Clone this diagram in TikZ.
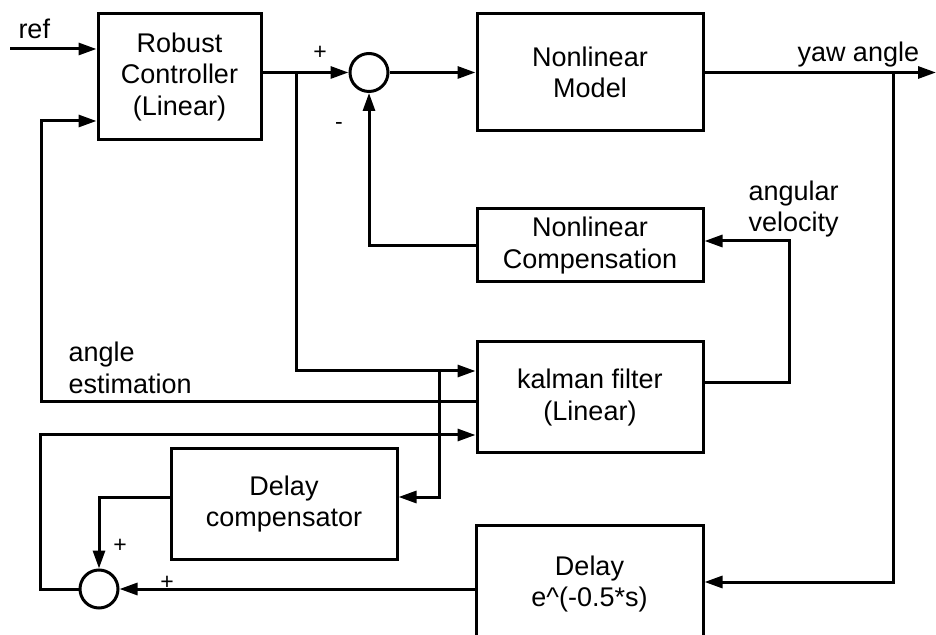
\documentclass[tikz,border=0pt]{standalone}
\usepackage{fontspec}
\setmainfont{Liberation Sans}
\usetikzlibrary{arrows.meta}

\begin{document}
\begin{tikzpicture}
  [x=0.5pt, y=-0.5pt, line width=1.5pt, >={Triangle[length=9pt,width=6pt]},
   font=\fontsize{13.5}{15.8}\selectfont,
   blk/.style={draw, align=center, inner sep=0pt},
   sumc/.style={draw, circle, minimum size=19pt, inner sep=0pt},
   sgn/.style={font=\fontsize{11.5}{13}\selectfont, inner sep=0pt}]
  \useasboundingbox (0,0) rectangle (936,635);

  \node[blk, minimum width=81.5pt, minimum height=63pt] (ctrl) at (179.5,77) {Robust\\Controller\\(Linear)};
  \node[sumc] (sum1) at (369,72.5) {};
  \node[blk, minimum width=113pt, minimum height=58.5pt] (model) at (590,72.5) {Nonlinear\\Model};
  \node[blk, minimum width=113pt, minimum height=36.5pt] (comp) at (590,245.5) {Nonlinear\\Compensation};
  \node[blk, minimum width=113pt, minimum height=55.5pt] (kf) at (590,397.5) {kalman filter\\(Linear)};
  \node[blk, minimum width=113pt, minimum height=55pt] (dcomp) at (284,504) {Delay\\compensator};
  \node[blk, minimum width=113.5pt, minimum height=59pt] (delay) at (589.5,584) {Delay\\e\textasciicircum(-0.5*s)};
  \node[sumc] (sum2) at (99,589) {};

  \node[anchor=base west, inner sep=0pt] (lref) at (17,39) {ref};
  \node[anchor=base west, inner sep=0pt] (lyaw) at (796,62) {yaw angle};
  \node[anchor=west, align=left, inner sep=0pt] (lang) at (67,368) {angle\\estimation};
  \node[anchor=west, align=left, inner sep=0pt] (lvel) at (747,209) {angular\\velocity};
  \node[sgn] (p1) at (320,53) {+};
  \node[sgn] (m1) at (339,126) {-};
  \node[sgn] (p2) at (120,546) {+};
  \node[sgn] (p3) at (167,583) {+};

  \coordinate (ref) at (10,49);
  \coordinate (out) at (936,72.5);
  \coordinate (b1) at (296,72.5);
  \coordinate (b2) at (893,72.5);
  \coordinate (b3) at (439,371);
  \coordinate (dc) at (439,497);
  \coordinate (ae) at (41,402);
  \coordinate (fb) at (40,435);
  \coordinate (av) at (789,241);

  \foreach \from/\to in {sum1/model,model/out}
  \draw[->] (\from) -- (\to);
  \draw[->] (ref) -- (ref -| ctrl.west);
  \draw[->] (ctrl.east |- sum1) -- (sum1);
  \draw[->] (b1) |- (b3 -| kf.west);
  \draw[->] (ae -| kf.west) -- (ae) |- (ctrl.west |- 0,121);
  \draw[->] (sum2.west) -| (fb) -- (fb -| kf.west);
  \draw[->] (b3) -- (dc) -- (dc -| dcomp.east);
  \draw[->] (dc -| dcomp.west) -| (sum2.north);
  \draw[->] (b2) |- (delay.east |- 0,582);
  \draw[->] (delay.west |- sum2) -- (sum2.east);
  \draw[->] (kf.east |- 0,383) -| (av) -- (av -| comp.east);
  \draw[->] (comp.west |- 0,246) -| (sum1.south);
\end{tikzpicture}
\end{document}
